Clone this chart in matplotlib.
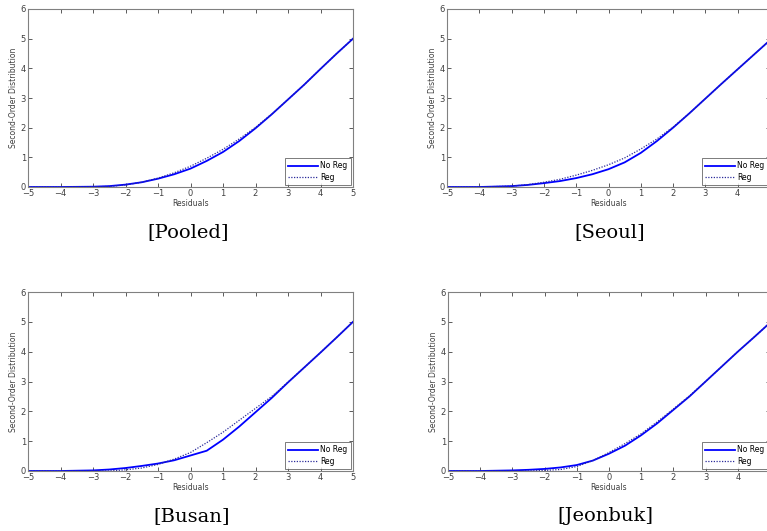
import matplotlib
matplotlib.use("Agg")
import matplotlib.pyplot as plt
import numpy as np

# Residual grid points
x_pts = [-5, -4, -3, -2.5, -2, -1.5, -1, -0.5, 0, 0.5, 1, 1.5, 2, 2.5, 3, 3.5, 4, 4.5, 5]

pooled_noreg = [0, 0, 0.01, 0.03, 0.08, 0.16, 0.28, 0.43, 0.62, 0.88, 1.18, 1.55, 1.98, 2.45, 2.95, 3.45, 3.98, 4.50, 5.00]
pooled_reg   = [0, 0, 0.01, 0.02, 0.07, 0.16, 0.30, 0.48, 0.70, 0.97, 1.27, 1.62, 2.01, 2.46, 2.95, 3.45, 3.98, 4.50, 5.00]

seoul_noreg = [0, 0, 0.03, 0.07, 0.13, 0.20, 0.30, 0.43, 0.60, 0.83, 1.15, 1.55, 2.00, 2.48, 2.98, 3.48, 3.97, 4.46, 4.95]
seoul_reg   = [0, 0, 0.03, 0.08, 0.16, 0.26, 0.40, 0.56, 0.75, 0.98, 1.28, 1.62, 2.02, 2.48, 2.98, 3.48, 3.97, 4.46, 4.95]

busan_noreg = [0, 0, 0.02, 0.05, 0.10, 0.17, 0.25, 0.36, 0.52, 0.68, 1.05, 1.49, 1.97, 2.45, 2.97, 3.47, 3.97, 4.48, 5.00]
busan_reg   = [0, 0, 0.00, 0.00, 0.04, 0.10, 0.22, 0.40, 0.62, 0.95, 1.30, 1.70, 2.10, 2.50, 2.98, 3.47, 3.97, 4.48, 5.00]

jeonbuk_noreg = [0, 0, 0.02, 0.04, 0.07, 0.12, 0.20, 0.35, 0.58, 0.85, 1.20, 1.60, 2.05, 2.50, 3.00, 3.50, 4.00, 4.48, 4.97]
jeonbuk_reg   = [0, 0, 0.00, 0.00, 0.02, 0.05, 0.15, 0.35, 0.62, 0.92, 1.25, 1.65, 2.08, 2.52, 3.00, 3.50, 4.00, 4.48, 4.97]

titles = ["[Pooled]", "[Seoul]", "[Busan]", "[Jeonbuk]"]
series = [(pooled_noreg, pooled_reg), (seoul_noreg, seoul_reg),
          (busan_noreg, busan_reg), (jeonbuk_noreg, jeonbuk_reg)]

W, H = 767, 531
# axes boxes in pixels: left, top, right, bottom
boxes = [(28, 9, 353, 187), (447, 9, 770, 187),
         (28, 292, 353, 471), (448, 292, 770, 471)]
title_xy = [(188, 232), (610, 232), (192, 516), (605, 516)]

fig = plt.figure(figsize=(W / 100, H / 100), dpi=100)
fig.patch.set_facecolor("white")

for (noreg, reg), (l, t, r, b), title, (tx, ty) in zip(series, boxes, titles, title_xy):
    ax = fig.add_axes([l / W, 1 - b / H, (r - l) / W, (b - t) / H])
    ax.plot(x_pts, noreg, color="#0000ff", lw=1.3, label="No Reg")
    ax.plot(x_pts, reg, color="#2a2a9a", lw=0.9, ls=(0, (1, 1.2)), label="Reg")
    ax.set_xlim(-5, 5)
    ax.set_ylim(0, 6)
    ax.set_xticks(np.arange(-5, 6, 1))
    ax.set_yticks(np.arange(0, 7, 1))
    ax.tick_params(direction="in", top=True, right=True, length=3, width=0.6,
                   labelsize=6, colors="#404040", pad=1.5)
    for s in ax.spines.values():
        s.set_color("#808080")
        s.set_linewidth(0.8)
    ax.set_xlabel("Residuals", fontsize=5.5, color="#404040", labelpad=1)
    ax.set_ylabel("Second-Order Distribution", fontsize=5.5, color="#404040", labelpad=2)
    leg = ax.legend(loc="lower right", fontsize=5.5, frameon=True, fancybox=False,
                    handlelength=4, borderpad=0.4, labelspacing=0.3,
                    borderaxespad=0.3, handletextpad=0.3)
    leg.get_frame().set_edgecolor("#404040")
    leg.get_frame().set_linewidth(0.6)
    fig.text(tx / W, 1 - ty / H, title, ha="center", va="center",
             family="DejaVu Serif", fontsize=14)

fig.savefig("out.png", dpi=100)
